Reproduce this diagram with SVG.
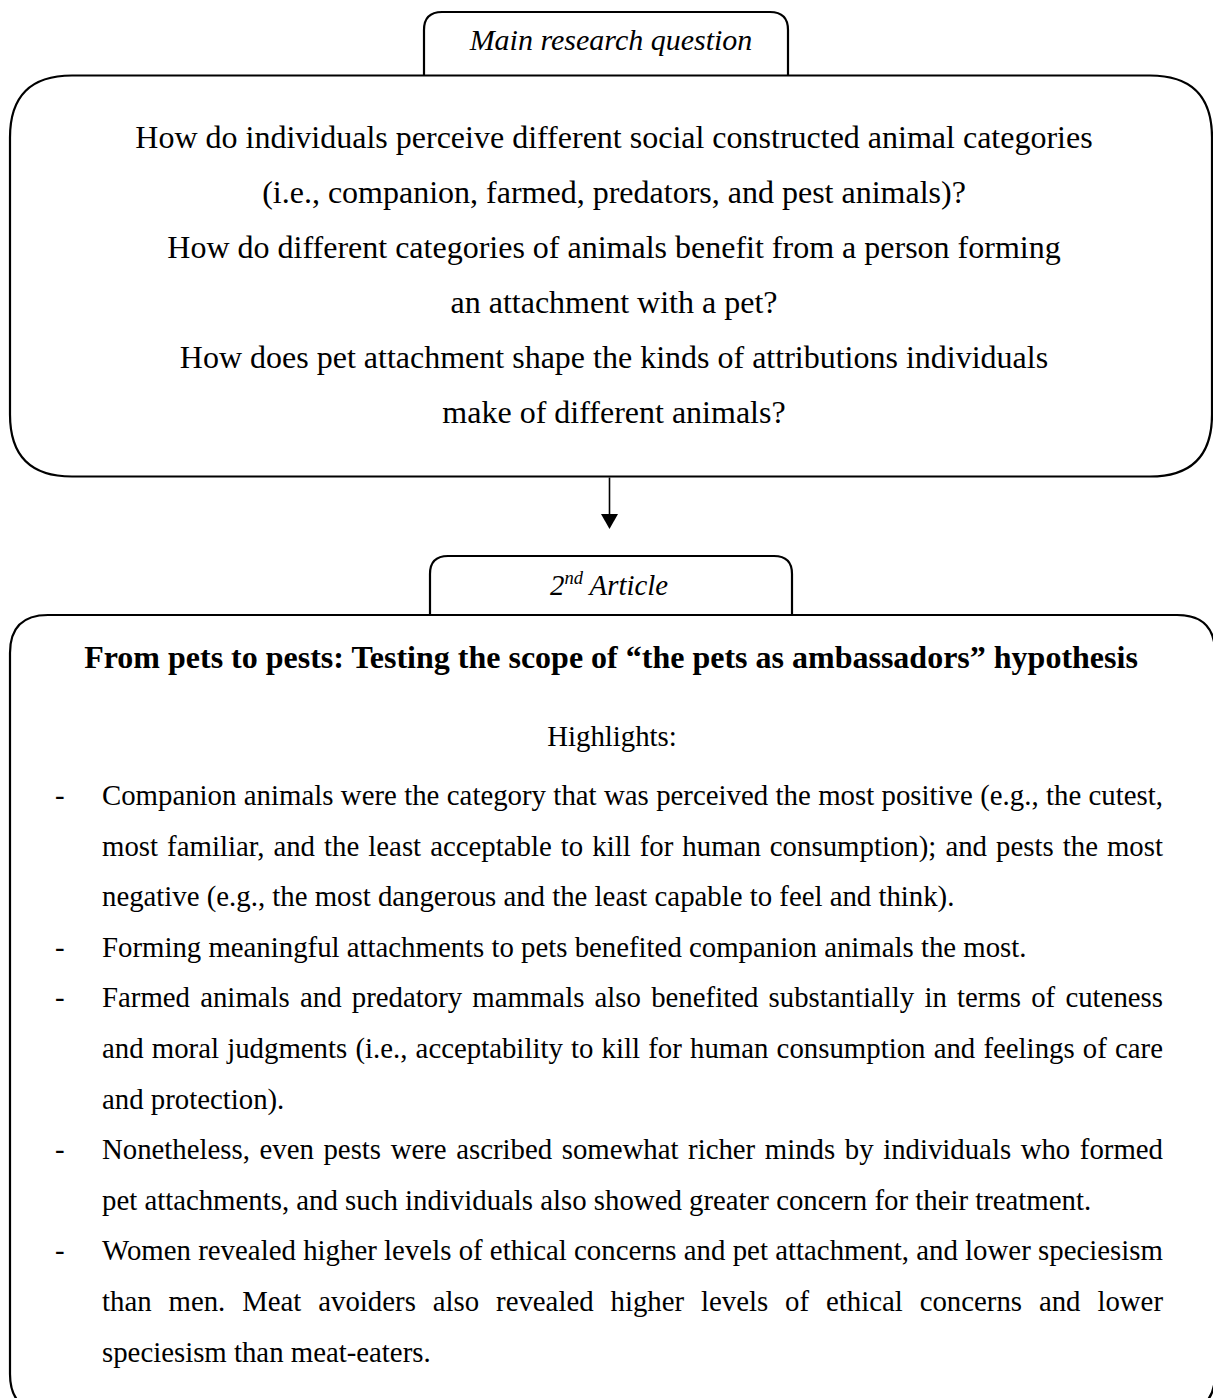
<svg xmlns="http://www.w3.org/2000/svg" width="1213" height="1398" viewBox="0 0 1213 1398">
<style>
  .box { fill: #ffffff; stroke: #000000; stroke-width: 2.2; }
  .tab { fill: #ffffff; stroke: #000000; stroke-width: 2.2; }
  .conn { stroke: #000000; stroke-width: 1.6; fill: none; }
  .q { font-family: "Liberation Serif", "Times New Roman", serif; font-size: 32px; fill: #000; text-anchor: middle; }
  .lab { font-family: "Liberation Serif", "Times New Roman", serif; font-style: italic; fill: #000; text-anchor: middle; }
  .title { font-family: "Liberation Serif", "Times New Roman", serif; font-weight: bold; font-size: 32px; fill: #000; text-anchor: middle; }
  .b { font-family: "Liberation Serif", "Times New Roman", serif; font-size: 28.8px; fill: #000; }
  .c { text-anchor: middle; }
</style>
<defs>
  <marker id="arrow" markerWidth="18" markerHeight="15" refX="0" refY="7.5" orient="auto" markerUnits="userSpaceOnUse">
    <path d="M0,0 L15,7.5 L0,15 Z" fill="#000"/>
  </marker>
</defs>
<rect width="1213" height="1398" fill="#ffffff"/>

<g id="main-question">
  <path class="tab" d="M424,75.5 V30 Q424,12 442,12 H770 Q788,12 788,30 V75.5"/>
  <path class="box" d="M72,75.5 H1150 Q1212,75.5 1212,137.5 V414.5 Q1212,476.5 1150,476.5 H72 Q10,476.5 10,414.5 V137.5 Q10,75.5 72,75.5 Z"/>
  <text class="lab" x="611" y="50" font-size="30">Main research question</text>
  <text class="q" x="614" y="148">How do individuals perceive different social constructed animal categories</text>
  <text class="q" x="614" y="203">(i.e., companion, farmed, predators, and pest animals)?</text>
  <text class="q" x="614" y="258">How do different categories of animals benefit from a person forming</text>
  <text class="q" x="614" y="313">an attachment with a pet?</text>
  <text class="q" x="614" y="368">How does pet attachment shape the kinds of attributions individuals</text>
  <text class="q" x="614" y="423">make of different animals?</text>
</g>

<g id="connectors">
  <line class="conn" x1="609.5" y1="477.5" x2="609.5" y2="514"/>
  <polygon points="601,514 618,514 609.5,529" fill="#000"/>
</g>

<g id="second-article">
  <path class="tab" d="M430,615 V574 Q430,556 448,556 H774 Q792,556 792,574 V615"/>
  <path class="box" d="M48,615 H1177 Q1215,615 1215,653 V1374 Q1215,1412 1177,1412 H48 Q10,1412 10,1374 V653 Q10,615 48,615 Z"/>
  <text class="lab" x="609" y="595" font-size="28.8">2<tspan font-size="18.5" dy="-11">nd</tspan><tspan dy="11"> Article</tspan></text>
  <text class="title" x="611" y="668">From pets to pests: Testing the scope of “the pets as ambassadors” hypothesis</text>
  <text class="b c" x="612" y="746">Highlights:</text>

  <text class="b" x="55" y="805">-</text>
  <text class="b" x="102" y="805" word-spacing="0.2" textLength="1061" lengthAdjust="spacing">Companion animals were the category that was perceived the most positive (e.g., the cutest,</text>
  <text class="b" x="102" y="855.6" word-spacing="1.8" textLength="1061" lengthAdjust="spacing">most familiar, and the least acceptable to kill for human consumption); and pests the most</text>
  <text class="b" x="102" y="906.2">negative (e.g., the most dangerous and the least capable to feel and think).</text>

  <text class="b" x="55" y="956.8">-</text>
  <text class="b" x="102" y="956.8">Forming meaningful attachments to pets benefited companion animals the most.</text>

  <text class="b" x="55" y="1007.4">-</text>
  <text class="b" x="102" y="1007.4" word-spacing="3" textLength="1061" lengthAdjust="spacing">Farmed animals and predatory mammals also benefited substantially in terms of cuteness</text>
  <text class="b" x="102" y="1058" word-spacing="1" textLength="1061" lengthAdjust="spacing">and moral judgments (i.e., acceptability to kill for human consumption and feelings of care</text>
  <text class="b" x="102" y="1108.6">and protection).</text>

  <text class="b" x="55" y="1159.2">-</text>
  <text class="b" x="102" y="1159.2" word-spacing="2.4" textLength="1061" lengthAdjust="spacing">Nonetheless, even pests were ascribed somewhat richer minds by individuals who formed</text>
  <text class="b" x="102" y="1209.8">pet attachments, and such individuals also showed greater concern for their treatment.</text>

  <text class="b" x="55" y="1260.4">-</text>
  <text class="b" x="102" y="1260.4" textLength="1061" lengthAdjust="spacing">Women revealed higher levels of ethical concerns and pet attachment, and lower speciesism</text>
  <text class="b" x="102" y="1311" word-spacing="9.7" textLength="1061" lengthAdjust="spacing">than men. Meat avoiders also revealed higher levels of ethical concerns and lower</text>
  <text class="b" x="102" y="1361.6">speciesism than meat-eaters.</text>
</g>
</svg>
